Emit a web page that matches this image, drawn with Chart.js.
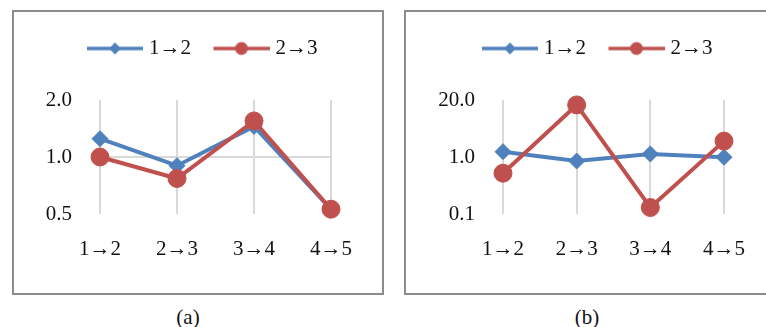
<!DOCTYPE html>
<html>
<head>
<meta charset="utf-8">
<script src="https://cdn.jsdelivr.net/npm/chart.js@4"></script>
<style>
    body { margin: 0; background: #fff; width: 766px; height: 327px; position: relative; overflow: hidden; font-family: "Liberation Serif", serif; }
    .panel { position: absolute; border: 2px solid #8c8c8c; box-sizing: border-box; }
    .caption { position: absolute; top: 305px; font-size: 21px; color: #111; width: 60px; text-align: center; }
</style>
</head>
<body>
<div class="panel" style="left:12px; top:10px; width:372px; height:285px;">
    <canvas id="chart-a" width="368" height="281"></canvas>
</div>
<div class="panel" style="left:404px; top:10px; width:366px; height:285px;">
    <canvas id="chart-b" width="362" height="281"></canvas>
</div>
<div class="caption" style="left:158px;">(a)</div>
<div class="caption" style="left:557px;">(b)</div>
<script>
const categories = ["1→2", "2→3", "3→4", "4→5"];
const seriesNames = ["1→2", "2→3"];

const leftBlue = [1.25, 0.90, 1.45, 0.53];
const leftRed = [1.00, 0.77, 1.55, 0.53];
const leftTicks = [0.5, 1, 2];
const leftTickLabels = ["0.5", "1.0", "2.0"];

const rightBlue = [1.24, 0.85, 1.13, 0.99];
const rightRed = [0.52, 8.2, 0.13, 1.9];
const rightTicks = [0.1, 1, 10];
const rightTickLabels = ["0.1", "1.0", "20.0"];

const blue = "#4F81BD";
const red = "#C0504D";
const font = { family: "Liberation Serif", size: 21 };

// legend swatch: line with a small marker on it, like Excel
// the image is wider than the legend box so the line sits close to the text
function legendSwatch(colour, style) {
    const c = document.createElement("canvas");
    c.width = 69;
    c.height = 20;
    const g = c.getContext("2d");
    g.strokeStyle = colour;
    g.fillStyle = colour;
    g.lineWidth = 3.5;
    g.beginPath();
    g.moveTo(13, 10);
    g.lineTo(69, 10);
    g.stroke();
    g.beginPath();
    if (style === "circle") {
        g.arc(41, 10, 6.5, 0, Math.PI * 2);
    } else {
        g.moveTo(41, 4);
        g.lineTo(47, 10);
        g.lineTo(41, 16);
        g.lineTo(35, 10);
        g.closePath();
    }
    g.fill();
    return c;
}

const swatches = [legendSwatch(blue, "rectRot"), legendSwatch(red, "circle")];

// empty axis, only reserves room on one side of the plot
function spacer(position, size) {
    return {
        type: "category",
        position: position,
        grid: { display: false },
        border: { display: false },
        ticks: { display: false },
        afterFit: (scale) => {
            if (position === "top") scale.height = size;
            else scale.width = size;
        }
    };
}

function createLineChart(canvasId, blueValues, redValues, ticks, tickLabels, showOneLine, pad) {
    const canvas = document.getElementById(canvasId);
    return new Chart(canvas.getContext("2d"), {
        type: "line",
        data: {
            labels: categories,
            datasets: [
                {
                    label: seriesNames[0],
                    data: blueValues,
                    xAxisID: "x",
                    yAxisID: "y",
                    borderColor: blue,
                    backgroundColor: blue,
                    borderWidth: 4,
                    pointStyle: "rectRot",
                    pointRadius: 8,
                    pointBorderWidth: 1,
                    order: 1,
                    clip: false
                },
                {
                    label: seriesNames[1],
                    data: redValues,
                    xAxisID: "x",
                    yAxisID: "y",
                    borderColor: red,
                    backgroundColor: red,
                    borderWidth: 4,
                    pointStyle: "circle",
                    pointRadius: 9,
                    pointBorderWidth: 1,
                    order: 0,
                    clip: false
                }
            ]
        },
        options: {
            responsive: false,
            animation: false,
            layout: {
                padding: { left: pad.left, right: 0, top: pad.top, bottom: 0 }
            },
            plugins: {
                tooltip: { enabled: false },
                legend: {
                    position: "top",
                    labels: {
                        font: font,
                        color: "#111",
                        usePointStyle: true,
                        pointStyleWidth: 60,
                        padding: 14,
                        sort: (a, b) => a.datasetIndex - b.datasetIndex,
                        generateLabels: (chart) => {
                            const items = Chart.defaults.plugins.legend.labels.generateLabels(chart);
                            items.forEach(item => { item.pointStyle = swatches[item.datasetIndex]; });
                            return items;
                        }
                    }
                }
            },
            scales: {
                x: {
                    offset: false,
                    grid: { color: "#d9d9d9", lineWidth: 2, drawTicks: false },
                    border: { display: false },
                    ticks: { font: font, color: "#111", padding: 23, maxRotation: 0 },
                    afterFit: (scale) => { scale.height = 79; }
                },
                y: {
                    type: "logarithmic",
                    min: ticks[0],
                    max: ticks[ticks.length - 1],
                    grid: {
                        drawTicks: false,
                        lineWidth: 2,
                        color: (ctx) => (showOneLine && ctx.tick && ctx.tick.value === 1) ? "#d9d9d9" : "rgba(0,0,0,0)"
                    },
                    border: { display: false },
                    afterBuildTicks: (scale) => { scale.ticks = ticks.map(v => ({ value: v })); },
                    ticks: {
                        font: font,
                        color: "#111",
                        padding: 28,
                        callback: (value) => {
                            const i = ticks.indexOf(value);
                            return i >= 0 ? tickLabels[i] : "";
                        }
                    },
                    afterFit: (scale) => { scale.width = pad.yWidth; }
                },
                gapTop: spacer("top", pad.gap),
                gapRight: spacer("right", pad.right)
            }
        }
    });
}

createLineChart("chart-a", leftBlue, leftRed, leftTicks, leftTickLabels, true,
    { left: 0, right: 51, top: 12, gap: 31, yWidth: 86 });
createLineChart("chart-b", rightBlue, rightRed, rightTicks, rightTickLabels, false,
    { left: 12, right: 44, top: 12, gap: 31, yWidth: 85 });
</script>
</body>
</html>
